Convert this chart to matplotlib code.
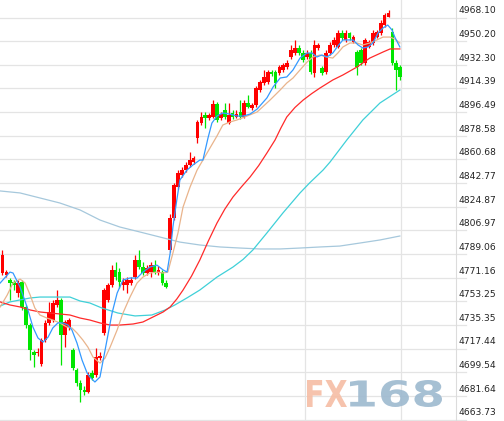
"""FX168 intraday candlestick chart with five moving averages."""

import matplotlib

matplotlib.use("Agg")
import matplotlib.pyplot as plt
from matplotlib.font_manager import FontProperties
from matplotlib.patches import PathPatch
from matplotlib.textpath import TextPath
from matplotlib.transforms import Affine2D

# --- candles (one entry per bar) -------------------------------------------
OPEN = [
    4774.7, 4773.2, 4769.4, 4767.9, 4759.5, 4767.9, 4749.0, 4735.3, 4714.9, 4714.1,
    4705.8, 4724.0, 4736.9, 4739.1, 4750.5, 4754.3, 4727.8, 4733.8, 4716.4, 4701.3,
    4691.4, 4686.1, 4684.6, 4699.0, 4697.5, 4710.3, 4729.3, 4754.3, 4765.6, 4777.0,
    4775.4, 4765.6, 4765.6, 4767.1, 4771.6, 4784.5, 4779.2, 4774.7, 4775.4, 4780.7,
    4774.7, 4775.4, 4767.1, 4792.1, 4816.3, 4839.8, 4848.9, 4852.6, 4856.4, 4858.7,
    4876.9, 4888.2, 4894.3, 4892.0, 4892.8, 4902.6, 4892.0, 4898.1, 4888.2, 4895.8,
    4892.8, 4896.6, 4892.8, 4903.4, 4899.6, 4901.9, 4913.2, 4918.5, 4919.3, 4926.8,
    4926.8, 4926.1, 4928.4, 4930.6, 4938.2, 4941.2, 4945.0, 4941.2, 4938.2, 4941.2,
    4926.1, 4945.0, 4929.9, 4926.8, 4941.2, 4947.3, 4945.8, 4956.4, 4951.1, 4956.4,
    4949.6, 4942.0, 4943.5, 4933.6, 4945.8, 4948.8, 4953.3, 4956.4, 4962.4, 4968.5,
    4957.1, 4933.6, 4930.6,
]
CLOSE = [
    4788.3, 4775.4, 4767.1, 4765.6, 4767.1, 4749.0, 4735.3, 4716.4, 4712.6, 4714.9,
    4724.0, 4736.9, 4745.2, 4752.0, 4754.3, 4727.8, 4737.6, 4739.1, 4702.8, 4691.4,
    4686.1, 4684.6, 4697.5, 4695.2, 4711.1, 4711.8, 4761.8, 4765.6, 4777.0, 4771.6,
    4767.9, 4767.9, 4769.4, 4769.4, 4784.5, 4779.2, 4774.7, 4778.5, 4780.7, 4775.4,
    4777.0, 4767.1, 4764.1, 4816.3, 4841.3, 4850.4, 4852.6, 4856.4, 4860.2, 4861.7,
    4889.0, 4892.8, 4892.0, 4894.3, 4902.6, 4890.5, 4895.0, 4892.8, 4894.3, 4892.8,
    4895.0, 4892.8, 4903.4, 4900.4, 4901.9, 4914.7, 4919.3, 4923.1, 4926.8, 4925.3,
    4918.5, 4930.6, 4932.1, 4933.6, 4943.5, 4945.0, 4941.2, 4935.9, 4941.2, 4926.8,
    4947.3, 4947.3, 4926.1, 4941.2, 4947.3, 4951.1, 4956.4, 4952.6, 4956.4, 4952.6,
    4953.3, 4930.6, 4933.6, 4951.1, 4949.6, 4956.4, 4957.1, 4963.9, 4970.0, 4971.5,
    4933.6, 4928.4, 4923.1,
]
HIGH = [
    4792.1, 4777.0, 4770.9, 4769.4, 4769.4, 4769.4, 4750.5, 4736.9, 4716.4, 4717.9,
    4725.5, 4739.1, 4752.8, 4754.3, 4761.8, 4755.8, 4739.1, 4740.6, 4717.9, 4702.8,
    4693.7, 4689.2, 4699.7, 4701.3, 4717.9, 4714.9, 4763.3, 4767.1, 4780.7, 4783.0,
    4778.5, 4770.9, 4771.6, 4771.6, 4788.3, 4792.1, 4783.0, 4780.7, 4783.0, 4784.5,
    4780.0, 4777.0, 4769.4, 4819.4, 4842.8, 4852.6, 4854.9, 4858.7, 4866.3, 4863.3,
    4890.5, 4896.6, 4896.6, 4895.8, 4905.6, 4904.1, 4896.6, 4903.4, 4903.4, 4898.1,
    4898.1, 4905.6, 4905.6, 4909.4, 4903.4, 4916.3, 4920.8, 4928.4, 4928.4, 4928.4,
    4928.4, 4932.1, 4933.6, 4935.9, 4947.3, 4951.1, 4947.3, 4943.5, 4943.5, 4943.5,
    4951.1, 4948.8, 4931.4, 4943.5, 4949.6, 4953.3, 4958.6, 4958.6, 4958.6, 4957.1,
    4954.9, 4943.5, 4945.0, 4952.6, 4951.1, 4958.6, 4958.6, 4966.2, 4971.5, 4973.8,
    4960.2, 4935.9, 4932.1,
]
LOW = [
    4773.2, 4771.6, 4754.3, 4761.8, 4756.5, 4746.7, 4733.1, 4708.8, 4703.5, 4711.8,
    4704.3, 4722.4, 4735.3, 4737.6, 4749.0, 4705.0, 4718.6, 4731.6, 4701.3, 4689.2,
    4677.0, 4682.4, 4683.9, 4693.7, 4696.0, 4708.8, 4727.8, 4752.8, 4764.1, 4769.4,
    4763.3, 4761.8, 4759.5, 4765.6, 4770.1, 4777.7, 4773.2, 4773.2, 4771.6, 4773.9,
    4773.2, 4765.6, 4763.3, 4790.6, 4814.8, 4838.3, 4847.4, 4851.1, 4854.9, 4857.2,
    4873.1, 4886.7, 4884.5, 4890.5, 4892.0, 4889.0, 4890.5, 4891.3, 4887.5, 4891.3,
    4892.0, 4891.3, 4892.0, 4899.6, 4898.1, 4900.4, 4911.7, 4917.0, 4917.8, 4923.8,
    4914.7, 4924.6, 4926.8, 4929.1, 4936.7, 4939.7, 4939.7, 4934.4, 4936.7, 4925.3,
    4923.1, 4943.5, 4924.6, 4925.3, 4939.7, 4945.8, 4945.0, 4951.1, 4949.6, 4951.1,
    4948.8, 4924.6, 4932.1, 4932.1, 4945.0, 4947.3, 4952.6, 4954.9, 4960.9, 4968.5,
    4932.1, 4913.2, 4920.8,
]

# --- moving averages: (bar index, value) pairs -----------------------------
MA5_X = [-0.6, 1.9, 2.7, 4.5, 6.3, 7.8, 9.1, 10.4, 11.7, 12.9, 14.2, 15.5, 16.8, 17.8,
         19.1, 20.4, 21.7, 22.4, 23.7, 25.0, 26.8, 28.1, 29.4, 30.9, 32.7, 34.5, 36.0,
         37.8, 39.6, 41.2, 42.2, 43.0, 43.7, 44.7, 45.5, 47.3, 48.8, 50.6, 51.4, 52.7,
         53.7, 55.0, 56.5, 58.3, 60.1, 61.7, 63.5, 65.3, 67.8, 69.4, 71.2, 72.9, 74.5,
         76.3, 78.1, 79.4, 80.6, 81.9, 83.2, 84.7, 86.0, 87.3, 88.6, 89.9, 91.2, 92.4,
         93.7, 95.0, 96.3, 97.6, 98.8, 99.9, 100.6, 101.9]
MA5_Y = [4767.1, 4775.4, 4774.7, 4764.1, 4749.0, 4733.8, 4725.5, 4722.4, 4726.2, 4733.1,
         4736.9, 4736.9, 4735.3, 4731.6, 4721.7, 4708.8, 4699.0, 4696.0, 4692.2, 4696.0,
         4724.0, 4744.4, 4759.5, 4769.4, 4770.9, 4770.9, 4775.4, 4779.2, 4780.7, 4777.0,
         4775.4, 4789.8, 4809.5, 4830.0, 4845.1, 4852.6, 4856.4, 4860.2, 4860.2, 4876.9,
         4888.2, 4893.5, 4895.8, 4895.0, 4893.5, 4893.5, 4895.0, 4898.8, 4907.2, 4915.5,
         4922.3, 4923.1, 4928.4, 4937.4, 4941.2, 4941.2, 4938.2, 4939.7, 4938.2, 4941.2,
         4946.5, 4951.1, 4951.1, 4951.1, 4947.3, 4945.0, 4945.8, 4948.8, 4956.4, 4960.2,
         4962.4, 4958.6, 4953.3, 4945.8]

MA10_X = [-0.6, 1.2, 2.7, 4.5, 5.8, 7.1, 8.3, 9.6, 11.4, 12.9, 14.7, 16.5, 17.8, 19.1,
          20.6, 21.9, 23.2, 25.0, 26.3, 27.6, 29.4, 30.9, 32.7, 34.5, 36.0, 37.8, 39.6,
          41.2, 42.4, 43.7, 45.0, 46.3, 48.1, 49.9, 51.4, 53.2, 55.0, 56.5, 58.3, 60.1,
          62.7, 65.3, 68.6, 71.2, 72.9, 74.5, 76.3, 78.1, 79.6, 81.4, 83.2, 84.7, 86.0,
          87.3, 89.1, 90.9, 92.4, 94.2, 96.0, 97.6, 99.4, 100.6, 101.9]
MA10_Y = [4749.0, 4758.0, 4767.1, 4770.1, 4767.1, 4758.0, 4748.2, 4742.9, 4740.6, 4739.1,
          4736.9, 4733.8, 4733.1, 4729.3, 4724.0, 4718.6, 4711.1, 4706.5, 4710.3, 4718.6,
          4731.6, 4744.4, 4756.5, 4767.1, 4771.6, 4774.7, 4775.4, 4774.7, 4775.4, 4789.8,
          4805.0, 4824.6, 4839.8, 4852.6, 4860.2, 4869.3, 4878.4, 4886.7, 4889.0, 4890.5,
          4893.5, 4896.6, 4905.6, 4913.2, 4918.5, 4922.3, 4928.4, 4934.4, 4938.2, 4939.7,
          4938.2, 4937.4, 4941.2, 4945.8, 4948.8, 4948.8, 4947.3, 4948.8, 4951.1, 4953.3,
          4953.3, 4951.8, 4948.8]

MA20_X = [-0.6, 1.9, 4.5, 7.1, 9.6, 12.2, 14.7, 17.3, 19.9, 22.4, 25.0, 27.6, 30.1, 33.5,
          36.0, 38.6, 41.2, 43.0, 44.7, 46.3, 48.5, 50.6, 52.8, 55.0, 57.0, 59.1, 61.3,
          63.5, 65.7, 67.8, 69.9, 71.4, 72.9, 75.0, 77.1, 79.3, 81.4, 84.7, 87.3, 90.9,
          94.2, 97.6, 99.4, 101.9]
MA20_Y = [4752.8, 4750.5, 4749.0, 4746.7, 4745.2, 4744.4, 4743.7, 4742.9, 4740.6, 4739.1,
          4736.9, 4735.3, 4735.3, 4736.1, 4737.6, 4741.4, 4745.2, 4749.0, 4755.0, 4761.8,
          4772.5, 4784.5, 4799.0, 4812.5, 4823.0, 4832.2, 4840.0, 4847.4, 4856.0, 4865.5,
          4875.4, 4884.5, 4892.8, 4900.0, 4905.6, 4910.5, 4914.7, 4920.8, 4924.6, 4930.6,
          4937.4, 4942.0, 4944.3, 4944.3]

MA60_X = [-0.6, 1.9, 4.5, 7.1, 9.6, 14.7, 17.3, 19.9, 22.4, 25.5, 29.6, 34.0, 38.3, 41.7,
          44.2, 47.4, 50.6, 55.0, 59.1, 61.7, 64.2, 67.8, 71.9, 76.3, 78.8, 82.2, 84.0,
          88.3, 92.4, 96.8, 101.9]
MA60_Y = [4749.7, 4752.8, 4754.3, 4755.8, 4756.5, 4756.5, 4756.5, 4753.5, 4752.0, 4748.2,
          4744.4, 4742.2, 4742.9, 4746.7, 4750.5, 4756.0, 4761.8, 4771.6, 4779.2, 4785.0,
          4792.1, 4805.0, 4820.1, 4835.3, 4843.0, 4852.6, 4858.7, 4875.4, 4890.5, 4903.4,
          4913.2]

MA120_X = [-0.6, 4.5, 9.6, 14.7, 19.9, 25.0, 30.1, 35.3, 40.4, 45.5, 50.6, 55.8, 60.9,
           66.0, 71.2, 76.3, 81.4, 86.5, 91.7, 96.8, 101.9]
MA120_Y = [4836.8, 4835.3, 4831.5, 4827.7, 4822.4, 4814.8, 4809.5, 4805.7, 4801.9, 4798.1,
           4795.9, 4794.4, 4793.6, 4792.9, 4792.9, 4793.6, 4794.4, 4795.1, 4797.4, 4799.7,
           4802.7]

Y_TICKS = [4968.10, 4950.20, 4932.30, 4914.39, 4896.49, 4878.58, 4860.68, 4842.77,
           4824.87, 4806.97, 4789.06, 4771.16, 4753.25, 4735.35, 4717.44, 4699.54,
           4681.64, 4663.73]
DAY_BREAKS = [77.6, 102.1]

UP_COLOR = "#ff0000"
DOWN_COLOR = "#00e600"
GRID_COLOR = "#e4e4e4"


def draw_candles(ax):
    colors = [UP_COLOR if c >= o else DOWN_COLOR for o, c in zip(OPEN, CLOSE)]
    idx = list(range(len(OPEN)))
    ax.vlines(idx, LOW, HIGH, colors=colors, linewidth=0.9, zorder=2)
    bottoms = [min(o, c) for o, c in zip(OPEN, CLOSE)]
    heights = [max(abs(c - o), 0.9) for o, c in zip(OPEN, CLOSE)]
    ax.bar(idx, heights, bottom=bottoms, width=0.95, color=colors, linewidth=0, zorder=3)


def draw_watermark(fig):
    prop = FontProperties(family="DejaVu Sans", weight="bold")
    for text, color, (x0, x1) in (("FX", "#f6bda4", (307, 347)), ("168", "#9db9cf", (350, 442))):
        path = TextPath((0, 0), text, size=100, prop=prop)
        ext = path.get_extents()
        tr = (Affine2D().translate(-ext.x0, -ext.y0)
              .scale((x1 - x0) / ext.width, 27 / ext.height)
              .translate(x0, 14).scale(1 / fig.dpi) + fig.dpi_scale_trans)
        fig.add_artist(PathPatch(path, facecolor=color, edgecolor="none", alpha=0.9,
                                 transform=tr, zorder=10))


def main():
    fig = plt.figure(figsize=(5.04, 4.21), dpi=100)
    ax = fig.add_axes([0, 0, 456 / 504, 1])
    ax.set_xlim(-0.64, 116.3)
    ax.set_ylim(4662.67, 4981.35)

    for v in Y_TICKS:
        ax.axhline(v, xmax=466 / 456, color=GRID_COLOR, linewidth=0.9, clip_on=False, zorder=0)
        ax.annotate(f"{v:.2f}", xy=(1, v), xycoords=("axes fraction", "data"),
                    xytext=(1.5, 4.8), textcoords="offset points", ha="left", va="center",
                    fontsize=6.6, color="#222222", annotation_clip=False)
    for b in DAY_BREAKS:
        ax.axvline(b, color=GRID_COLOR, linewidth=0.9, zorder=0)

    draw_candles(ax)
    ax.plot(MA120_X, MA120_Y, color="#a6c8dc", linewidth=0.9, zorder=4)
    ax.plot(MA60_X, MA60_Y, color="#3fd0d8", linewidth=0.9, zorder=4)
    ax.plot(MA20_X, MA20_Y, color="#ff2a2a", linewidth=0.9, zorder=4)
    ax.plot(MA10_X, MA10_Y, color="#e9b48c", linewidth=0.9, zorder=4)
    ax.plot(MA5_X, MA5_Y, color="#3399ff", linewidth=0.9, zorder=4)

    ax.set_xticks([])
    ax.set_yticks([])
    for side in ("left", "top", "bottom"):
        ax.spines[side].set_visible(False)
    ax.spines["right"].set_color("#dcdcdc")
    ax.spines["right"].set_linewidth(0.8)

    draw_watermark(fig)
    fig.savefig("out.png", dpi=100)
    plt.close(fig)


if __name__ == "__main__":
    main()
